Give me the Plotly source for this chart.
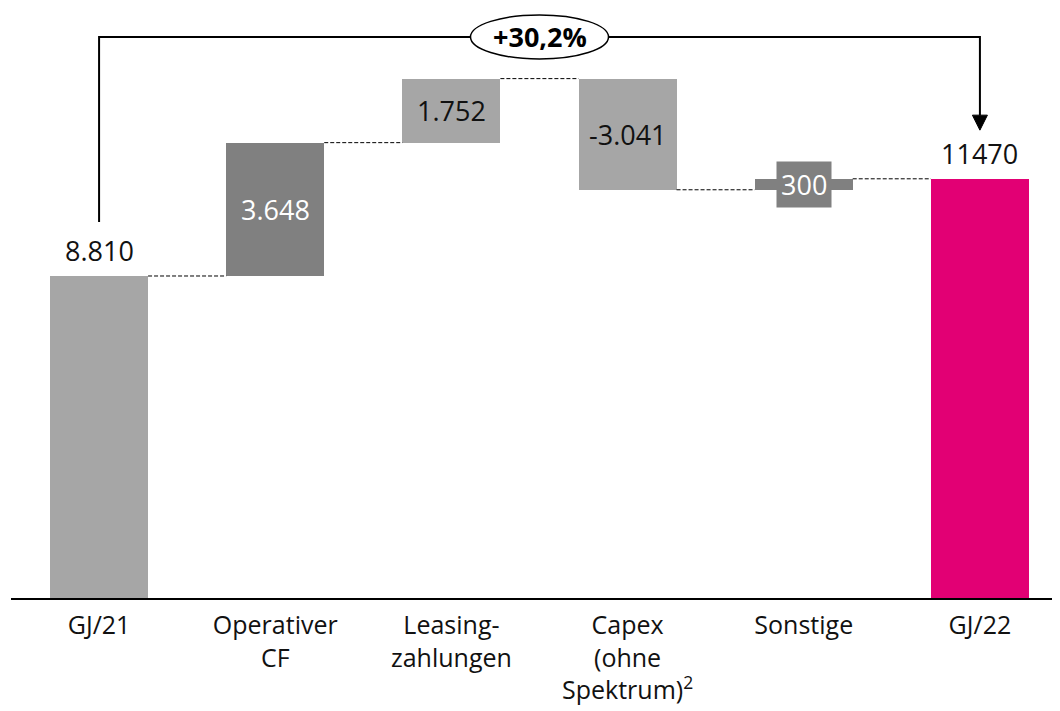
import plotly.graph_objects as go

categories = ["GJ/21", "Operativer<br>CF", "Leasing-<br>zahlungen", "Capex<br>(ohne<br>Spektrum)<sup>2</sup>", "Sonstige", "GJ/22"]
values = [8810, 3648, 1752, -3041, 300, 11470]
measures = ["absolute", "relative", "relative", "relative", "relative", "total"]
value_labels = ["8.810", "3.648", "1.752", "-3.041", "300", "11470"]
change_label = "+30,2%"

colors = ["#a6a6a6", "#808080", "#a6a6a6", "#a6a6a6", "#808080", "#e20074"]
text_colors = ["#111111", "#ffffff", "#111111", "#111111", "#ffffff", "#111111"]

# compute bases / heights from data
bases, heights, tops = [], [], []
running = 0
for v, m in zip(values, measures):
    if m == "absolute" or m == "total":
        bases.append(0)
        heights.append(v)
        running = v
    else:
        if v >= 0:
            bases.append(running)
            heights.append(v)
        else:
            bases.append(running + v)
            heights.append(-v)
        running += v
    tops.append(running)

x_idx = list(range(len(categories)))
BAR_W = 0.556
FONT = "Open Sans"

fig = go.Figure()
fig.add_trace(go.Bar(
    x=x_idx, y=heights, base=bases, width=BAR_W,
    marker=dict(color=colors, line=dict(width=0)),
    hoverinfo="skip",
))

annotations = []
# value labels
for i in x_idx:
    b, h = bases[i], heights[i]
    if measures[i] in ("absolute", "total"):
        annotations.append(dict(x=i, y=b + h, xref="x", yref="y", text=value_labels[i],
                                showarrow=False, yanchor="bottom", yshift=5,
                                font=dict(family=FONT, size=27, color=text_colors[i])))
    elif i == 4:
        annotations.append(dict(x=i, y=b + h / 2, xref="x", yref="y", text=value_labels[i],
                                showarrow=False, bgcolor=colors[i], borderpad=4,
                                font=dict(family=FONT, size=27, color=text_colors[i])))
    else:
        annotations.append(dict(x=i, y=b + h / 2, xref="x", yref="y", text=value_labels[i],
                                showarrow=False,
                                font=dict(family=FONT, size=27, color=text_colors[i])))

shapes = []
# connectors
for i in range(len(categories) - 1):
    level = tops[i]
    shapes.append(dict(type="line", xref="x", yref="y",
                       x0=i + BAR_W / 2, x1=i + 1 - BAR_W / 2, y0=level, y1=level,
                       line=dict(color="#000000", width=1, dash="4px,2px"), layer="above"))

# bracket
y_start = 10290
y_top = 15350
y_arrow = 12800
shapes.append(dict(type="path", xref="x", yref="y",
                   path=f"M 0,{y_start} L 0,{y_top} L 5,{y_top} L 5,{y_arrow + 400}",
                   line=dict(color="#000000", width=2), layer="above"))
shapes.append(dict(type="path", xref="x", yref="y", xsizemode="pixel", ysizemode="pixel",
                   xanchor=5, yanchor=y_arrow,
                   path="M -7.5,15 L 7.5,15 L 0,0 Z",
                   fillcolor="#000000", line=dict(color="#000000", width=1), layer="above"))
shapes.append(dict(type="circle", xref="x", yref="y", xsizemode="pixel", ysizemode="pixel",
                   xanchor=2.5, yanchor=y_top, x0=-69, x1=69, y0=-22, y1=22,
                   fillcolor="#ffffff", line=dict(color="#000000", width=1.5), layer="above"))
annotations.append(dict(x=2.5, y=y_top, xref="x", yref="y", text=f"<b>{change_label}</b>",
                        showarrow=False, font=dict(family=FONT, size=27, color="#000000")))

fig.update_layout(
    width=1060, height=711,
    margin=dict(l=3, r=0, t=0, b=121),
    plot_bgcolor="#ffffff", paper_bgcolor="#ffffff",
    showlegend=False,
    bargap=0,
    shapes=shapes, annotations=annotations,
    xaxis=dict(range=[-0.5, 5.5], tickmode="array", tickvals=x_idx, ticktext=categories,
               showline=True, linecolor="#000000", linewidth=2, showgrid=False, zeroline=False,
               ticks="", ticklabelstandoff=4,
               tickfont=dict(family=FONT, size=25, color="#111111")),
    yaxis=dict(range=[0, 16142], visible=False, showgrid=False, zeroline=False),
)

fig.write_html("out.html")
